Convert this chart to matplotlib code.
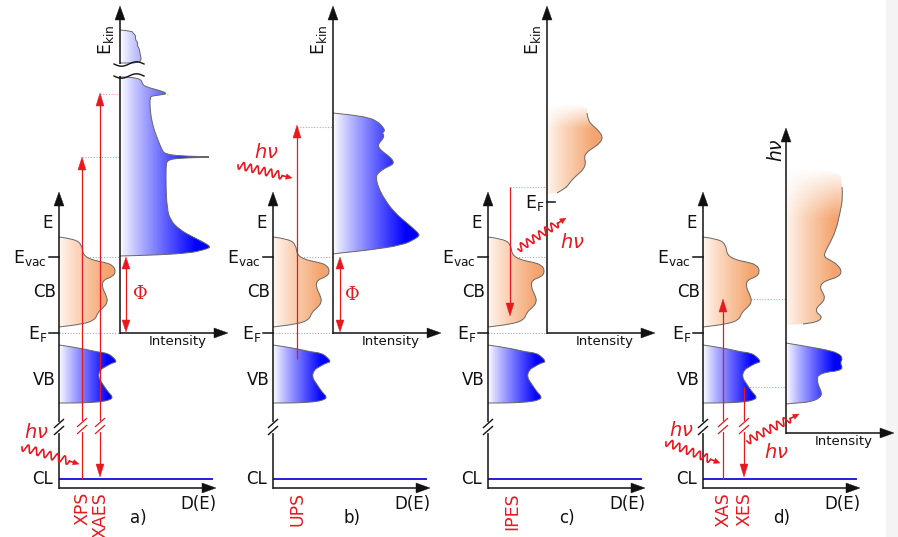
import numpy as np
import matplotlib.pyplot as plt
from matplotlib.path import Path
from matplotlib.patches import PathPatch, Polygon, Rectangle
from matplotlib.colors import to_rgb

plt.rcParams['font.family'] = ['DejaVu Sans']
plt.rcParams['mathtext.fontset'] = 'dejavusans'

# diagram units: 1 unit = 1 pixel, energy grows upwards (smaller y)
panel_labels = ['a)', 'b)', 'c)', 'd)']
methods = [['XPS', 'XAES'], ['UPS'], ['IPES'], ['XAS', 'XES']]
dos_axis_x = [59, 273, 488, 703]
spec_axis_x = [120, 333, 547, 786]

E_TOP = 192
E_LABEL = 223
E_VAC = 257
CB_LABEL = 292
E_F = 333
VB_LABEL = 380
E_BREAK = 427
CL = 479
DE_AXIS = 488

# density of states (energy, density)
cb_energy = [237, 239, 245, 255, 260, 262, 265, 272, 277, 280, 287, 295, 302, 308, 312, 320, 324, 327]
cb_density = [0, 16, 23, 24, 33, 44, 54, 57, 53, 44, 43, 47, 49, 44, 39, 36, 24, 0]
vb_energy = [345, 348, 352, 353, 357, 362, 363, 367, 370, 377, 383, 392, 397, 400, 402, 403, 403]
vb_density = [0, 21, 38, 48, 54, 58, 53, 46, 41, 39, 43, 49, 54, 51, 41, 21, 0]

# a) XPS / XAES spectrum, two parts around the axis break
xps_top_ekin = [30, 31, 33, 36, 39, 43, 45, 48, 53, 63, 63]
xps_top_int = [0, 12, 13, 16, 15, 18, 17, 19, 20, 22, 0]
xps_ekin = [77, 77, 85, 86, 88, 90, 93.5, 95, 96, 97, 110, 127, 140, 150, 154, 156, 156.7, 157.3, 158, 160,
            167, 187, 207, 220, 230, 237, 243, 246.5, 248, 250, 253, 255, 256]
xps_int = [0, 20, 23, 25, 30, 38, 48, 40, 32, 30, 30, 33, 38, 42, 45, 60, 89, 89, 60, 47,
           46, 46, 47, 50, 60, 73, 85, 90, 89, 83, 70, 37, 0]
# b) UPS spectrum
ups_ekin = [113, 115, 118, 122, 127, 131, 133, 135, 139, 143, 147, 152, 157, 162, 165, 168, 173, 177,
            187, 200, 213, 223, 230, 234, 236, 239, 245, 250, 253, 254]
ups_int = [0, 20, 37, 45, 50, 52, 49, 51, 50, 46, 45, 50, 57, 61, 59, 52, 45, 43,
           45, 52, 62, 74, 82, 86, 86, 82, 70, 37, 7, 0]
# c) IPES spectrum
ipes_ekin = [104, 104, 113, 120, 125, 130, 137, 143, 148, 152, 157, 163, 170, 175, 182, 187, 193, 194]
ipes_int = [0, 40, 40, 41, 45, 51, 56, 53, 46, 40, 37, 39, 36, 30, 23, 20, 10, 0]
# d) XAS / XES spectra
xas_hv = [168, 168, 187, 197, 213, 230, 243, 252, 257, 260, 265, 272, 277, 280, 283, 288, 293, 298,
          303, 307, 312, 315, 318, 322, 324, 325]
xas_int = [0, 54, 56, 57, 54, 50, 44, 39, 38, 44, 52, 56, 52, 42, 36, 34, 37, 39,
           36, 31, 30, 34, 36, 31, 17, 0]
xes_hv = [343, 347, 350, 353, 358, 363, 368, 371, 372, 375, 380, 387, 393, 398, 402, 403, 404]
xes_int = [0, 24, 41, 52, 57, 54, 57, 52, 41, 32, 31, 33, 36, 34, 24, 11, 0]

RED = '#e8191e'
PINK = '#f09a9a'
BLACK = '#111111'
CL_BLUE = '#1f1fd8'
BLUE_GRAD = ('#ffffff', '#0000ff')
ORANGE_GRAD = ('#fff7f0', '#f4a46e')

fig = plt.figure(figsize=(8.98, 5.37), dpi=100)
ax = fig.add_axes([0, 0, 1, 1])
ax.add_patch(Rectangle((886, 0), 12, 537, color='#f4f4f4', zorder=0, lw=0))


def smooth(pts):
    verts = [pts[0]]
    codes = [Path.MOVETO]
    for i in range(1, len(pts) - 1):
        verts += [pts[i], (pts[i] + pts[i + 1]) / 2]
        codes += [Path.CURVE3, Path.CURVE3]
    verts.append(pts[-1])
    codes.append(Path.LINETO)
    return verts, codes


def band(x0, energy, density, colors, fade=None, gw=None):
    pts = np.column_stack([x0 + np.array(density, float), np.array(energy, float)])
    verts, codes = smooth(pts)
    clip = PathPatch(Path(verts + [verts[0]], codes + [Path.CLOSEPOLY]),
                     facecolor='none', edgecolor='none', transform=ax.transData)
    ax.add_patch(clip)
    w = gw or max(density)
    ytop, ybot = min(energy), max(energy)
    nx, ny = 200, 120
    t = np.clip(np.linspace(0, 1, nx) / 0.85, 0, 1) ** 0.9
    c0, c1 = np.array(to_rgb(colors[0])), np.array(to_rgb(colors[1]))
    rgb = (1 - t)[:, None] * c0 + t[:, None] * c1
    img = np.ones((ny, nx, 4))
    img[:, :, :3] = rgb[None, :, :]
    if fade:
        yy = np.linspace(ytop, ybot, ny)
        img[:, :, 3] = np.clip((yy - ytop) / fade, 0, 1)[:, None]
    im = ax.imshow(img, extent=(x0, x0 + w, ybot, ytop), origin='upper',
                   aspect='auto', interpolation='bilinear', zorder=2)
    im.set_clip_path(clip)
    ov, oc = smooth(pts[2:-1] if fade else pts)
    ax.add_patch(PathPatch(Path(ov, oc), facecolor='none', edgecolor='#666666',
                           lw=0.7, zorder=3))


def head(tip, base_from, color, hl, hw):
    tip = np.array(tip, float)
    u = tip - np.array(base_from, float)
    u /= np.hypot(*u)
    n = np.array([-u[1], u[0]])
    b = tip - u * hl
    ax.add_patch(Polygon([tip, b + n * hw / 2, b - n * hw / 2], closed=True,
                         facecolor=color, edgecolor=color, lw=0.3, zorder=5))
    return b + u * 1


def arrow(x0, y0, x1, y1, color=BLACK, lw=1.1, hl=14, hw=10, both=False):
    e = head((x1, y1), (x0, y0), color, hl, hw)
    s = head((x0, y0), (x1, y1), color, hl, hw) if both else (x0, y0)
    ax.plot([s[0], e[0]], [s[1], e[1]], color=color, lw=lw, zorder=4, solid_capstyle='butt')


def vbreak(x, y, color=BLACK, lw=1.0):
    ax.plot([x, x], [y - 3.5, y + 3.5], color='white', lw=3, zorder=5)
    for dy in (-3.5, 3.5):
        ax.plot([x - 4.5, x + 4.5], [y + dy + 4, y + dy - 4], color=color, lw=lw, zorder=6)


def photon(p0, p1, label, lpos, nwaves=6.5, amp=3.8):
    p0, p1 = np.array(p0, float), np.array(p1, float)
    d = p1 - p0
    L = np.hypot(*d)
    u = d / L
    n = np.array([-u[1], u[0]])
    lw_ = L - 10
    t = np.linspace(0, lw_, 300)
    off = amp * np.sin(2 * np.pi * t / (lw_ / nwaves))
    pts = p0 + np.outer(t, u) + np.outer(off, n)
    ax.plot(pts[:, 0], pts[:, 1], color=RED, lw=1.2, zorder=6)
    e = head(p1, p0, RED, 6, 5.5)
    ax.plot([pts[-1, 0], e[0]], [pts[-1, 1], e[1]], color=RED, lw=1.2, zorder=6)
    ax.text(lpos[0], lpos[1], label, color=RED, fontsize=14, ha='center', va='center', zorder=6)


def dotted(x0, x1, y, color):
    ax.plot([x0, x1], [y, y], color=color, lw=0.8, ls=(0, (1, 1.5)), zorder=1)


def txt(x, y, s, **kw):
    kw.setdefault('fontsize', 12)
    kw.setdefault('color', BLACK)
    kw.setdefault('va', 'center')
    ax.text(x, y, s, zorder=6, **kw)


# density-of-states diagrams
for i, x0 in enumerate(dos_axis_x):
    arrow(x0, DE_AXIS + 0.5, x0, E_TOP)
    arrow(x0 - 0.5, DE_AXIS, x0 + 157, DE_AXIS)
    vbreak(x0, E_BREAK)
    band(x0, cb_energy, cb_density, ORANGE_GRAD)
    band(x0, vb_energy, vb_density, BLUE_GRAD)
    ax.plot([x0 + 1, x0 + 153], [CL, CL], color=CL_BLUE, lw=1.4, zorder=3)
    txt(x0 - 6, E_LABEL, 'E', ha='right')
    txt(x0 - 12, E_VAC + 1, r'$\mathrm{E_{vac}}$', ha='right', fontsize=12.5)
    ax.plot([x0 - 10, x0], [E_VAC, E_VAC], color=BLACK, lw=1.1)
    txt(x0 - 3, CB_LABEL, 'CB', ha='right')
    txt(x0 - 12, E_F + 1, r'$\mathrm{E_F}$', ha='right', fontsize=12.5)
    ax.plot([x0 - 10, x0], [E_F, E_F], color=BLACK, lw=1.1)
    txt(x0 - 3, VB_LABEL, 'VB', ha='right')
    txt(x0 - 6, CL, 'CL', ha='right')
    txt(x0 + 139, 504, 'D(E)', ha='center')
    txt(x0 + 79, 518, panel_labels[i], ha='center')

# spectrometer axes
for i, sx in enumerate(spec_axis_x):
    iy = E_F if i < 3 else 433
    arrow(sx - 0.5, iy, sx + 108, iy)
    txt(sx + 58, iy + 9, 'Intensity', ha='center', fontsize=9.5)
    if i < 3:
        arrow(sx, iy + 0.5, sx, 6)
        txt(sx - 14, 40, r'$\mathrm{E_{kin}}$', ha='center', rotation=90, fontsize=12.5)
        dotted(dos_axis_x[i], sx, E_VAC, '#aaaaaa')
        dotted(dos_axis_x[i], sx, E_F, '#aaaaaa')
    else:
        arrow(sx, iy + 0.5, sx, 128)
        txt(sx - 10, 150, r'$h\nu$', ha='center', rotation=90, fontsize=13.5)

# a) XPS / XAES
sx = spec_axis_x[0]
band(sx, xps_top_ekin, xps_top_int, BLUE_GRAD, gw=max(xps_int))
band(sx, xps_ekin, xps_int, BLUE_GRAD)
ax.add_patch(Rectangle((sx - 2, 64), 4, 12, color='white', zorder=5, lw=0))
for yb in (64, 76):
    xs = np.linspace(sx - 6, sx + 24, 60)
    ax.plot(xs, yb + 2.2 * np.sin((xs - sx + 6) / 30 * 2 * np.pi), color=BLACK, lw=1.0, zorder=6)
xa, xb = 82, 100
arrow(xa, CL, xa, 157, RED, lw=0.9, hl=13, hw=8)
arrow(xb, 477, xb, 93, RED, lw=0.9, hl=13, hw=8, both=True)
vbreak(xa, E_BREAK - 1, RED, 0.9)
vbreak(xb, E_BREAK - 1, RED, 0.9)
dotted(xa, sx + 88, 157, PINK)
dotted(xb, sx + 48, 94, PINK)
arrow(sx + 6, E_VAC, sx + 6, E_F - 1, RED, lw=0.9, hl=12, hw=8, both=True)
txt(sx + 20, 294, 'Φ', color=RED, fontsize=13, family='DejaVu Serif', ha='center')
photon((22, 447), (79, 464), r'$h\nu$', (36, 433))

# b) UPS
sx = spec_axis_x[1]
band(sx, ups_ekin, ups_int, BLUE_GRAD)
arrow(297, 359, 297, 125, RED, lw=0.9, hl=13, hw=8)
dotted(297, sx + 50, 127, PINK)
arrow(sx + 7, E_VAC, sx + 7, E_F - 1, RED, lw=0.9, hl=12, hw=8, both=True)
txt(sx + 19, 295, 'Φ', color=RED, fontsize=13, family='DejaVu Serif', ha='center')
photon((238, 165), (292, 178), r'$h\nu$', (266, 152))

# c) IPES
sx = spec_axis_x[2]
band(sx, ipes_ekin, ipes_int, ORANGE_GRAD, fade=24)
ax.plot([sx, sx + 8], [202, 202], color=BLACK, lw=1.1, zorder=4)
txt(sx - 3, 203, r'$\mathrm{E_F}$', ha='right', fontsize=12.5)
arrow(510, 187, 510, 316, RED, lw=0.9, hl=13, hw=8)
dotted(510, sx + 20, 187, PINK)
photon((518, 249), (566, 218), r'$h\nu$', (572, 243))

# d) XAS / XES
sx = spec_axis_x[3]
band(sx, xas_hv, xas_int, ORANGE_GRAD, fade=50)
band(sx, xes_hv, xes_int, BLUE_GRAD)
arrow(723, CL, 723, 299, RED, lw=0.9, hl=13, hw=8)
arrow(744, 387, 744, 477, RED, lw=0.9, hl=13, hw=8)
vbreak(723, E_BREAK - 1, RED, 0.9)
vbreak(744, E_BREAK - 1, RED, 0.9)
dotted(723, sx + 16, 299, PINK)
dotted(744, sx + 12, 387, PINK)
photon((666, 442), (720, 463), r'$h\nu$', (681, 430))
photon((747, 441), (799, 414), r'$h\nu$', (776, 452))

# method labels under the axes
for i, names in enumerate(methods):
    xs = {0: [82, 100], 1: [297], 2: [512], 3: [723, 744]}[i]
    for x, name in zip(xs, names):
        txt(x, 492, name, color=RED, rotation=90, ha='center', va='top', fontsize=12.5)

ax.set_xlim(0, 898)
ax.set_ylim(537, 0)
ax.axis('off')
fig.savefig('out.png', dpi=100)
